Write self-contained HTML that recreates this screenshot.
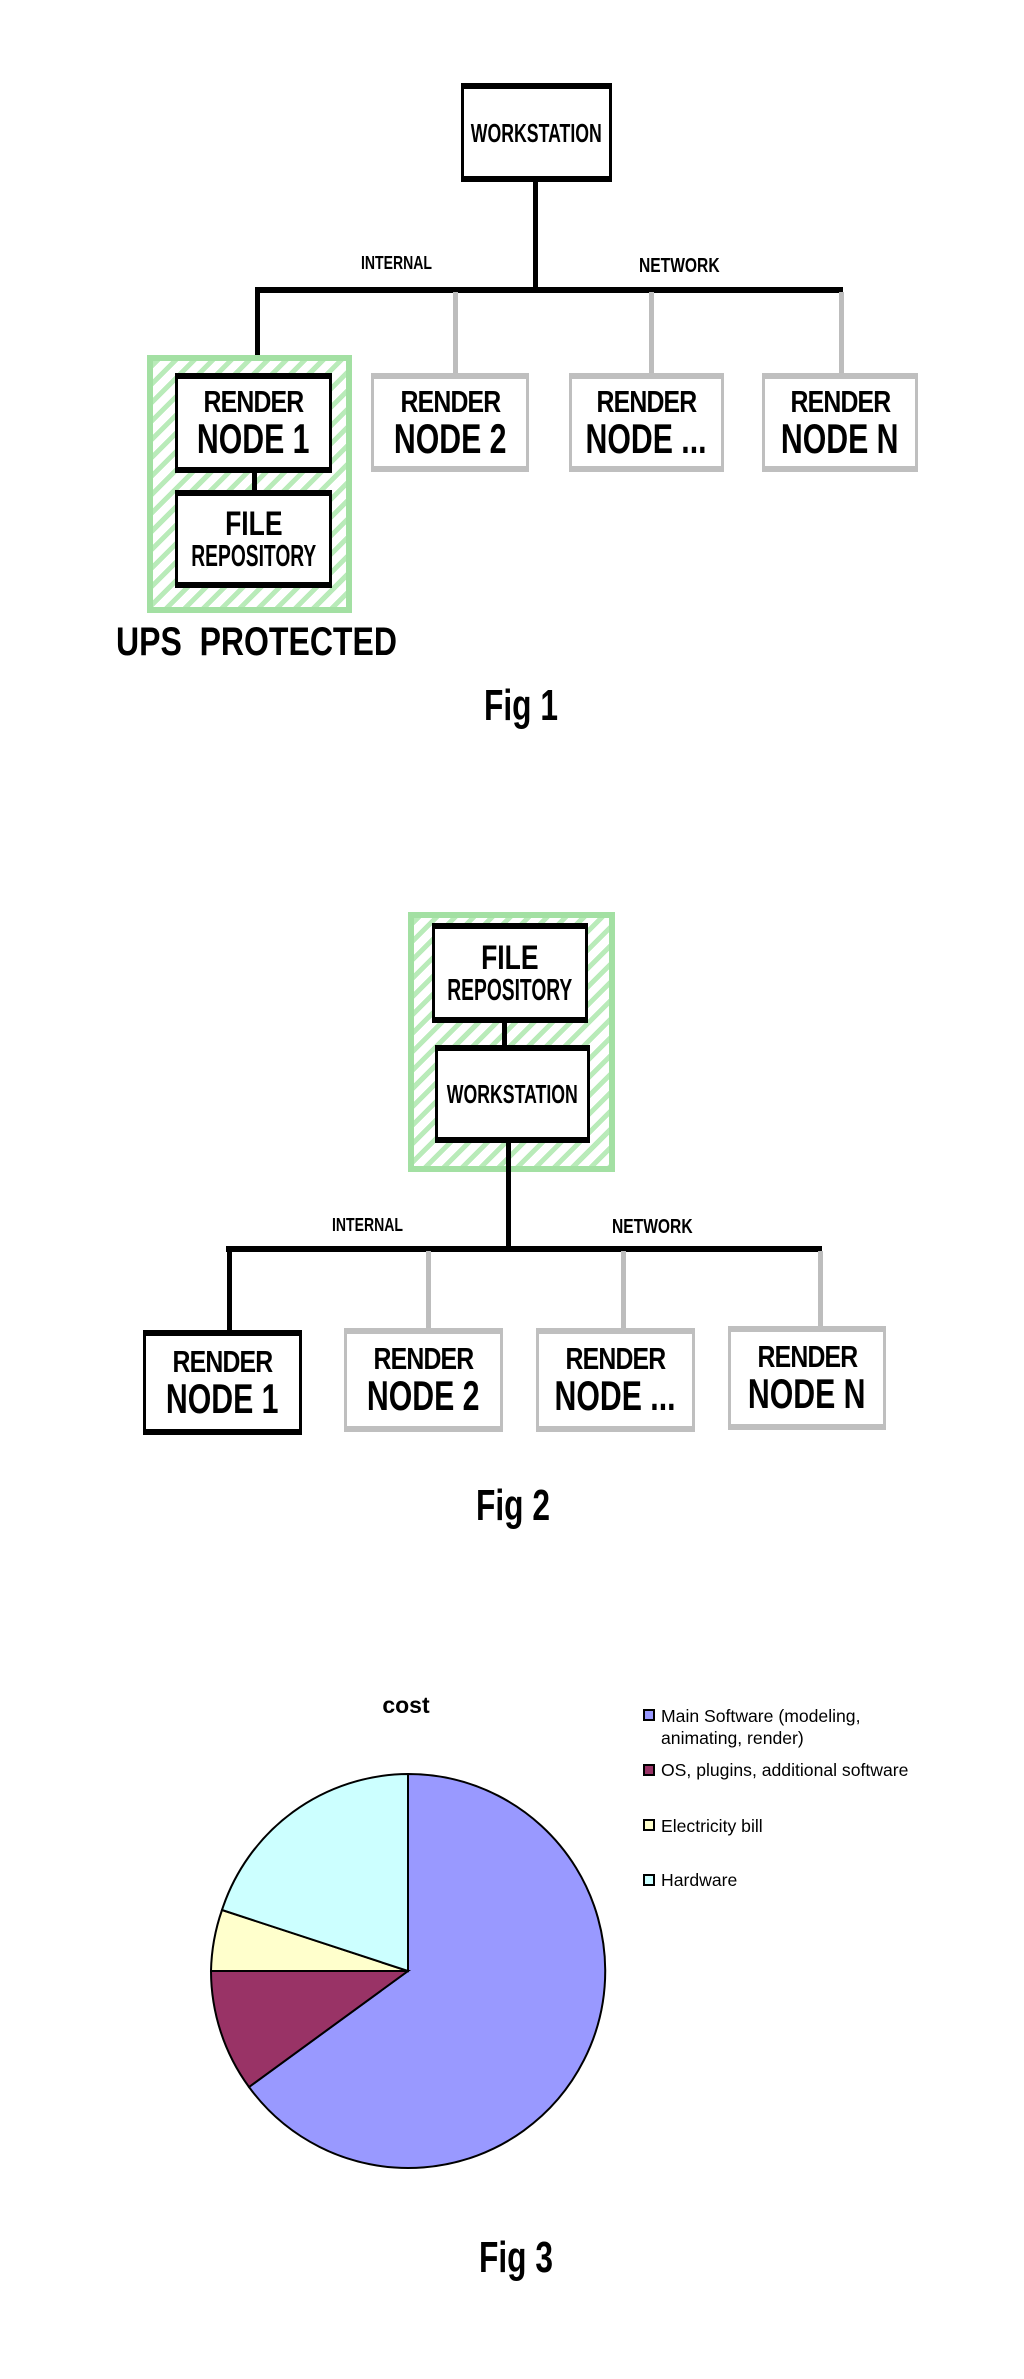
<!DOCTYPE html>
<html><head><meta charset="utf-8"><style>
body{margin:0;width:1024px;height:2379px;background:#fff;position:relative;overflow:hidden;font-family:"Liberation Sans",sans-serif}
.a{position:absolute}
.box{position:absolute;box-sizing:border-box;background:#fff;border-style:solid;border-color:#000;border-width:6px 3px 6px 3px;display:flex;flex-direction:column;align-items:center;justify-content:center;font-weight:bold;color:#000;overflow:visible}
.box span{white-space:nowrap;display:block}
.g{border-color:#bfbfbf}
.grn{position:absolute;box-sizing:border-box;border:6px solid #a3e0a3;background:repeating-linear-gradient(135deg,#b9ebb9 0 5px,#fff 5px 13px)}
.r1{font-size:31px;line-height:32px;transform:scaleX(.8);letter-spacing:-1px}
.r2{font-size:42px;line-height:42px;transform:scaleX(.72)}
.t{font-size:30px;line-height:30px;transform:scaleX(.78)}
.lbl{position:absolute;font-weight:bold;font-size:18px;transform:scaleX(.78);transform-origin:left top;white-space:nowrap}
.fig{position:absolute;font-weight:bold;font-size:44px;line-height:44px;transform:scaleX(.72);width:200px;text-align:center}
.hl{position:absolute;background:#000;height:6px}
.vl{position:absolute;background:#000;width:5px}
.gv{position:absolute;background:#bdbdbd;width:5px}
</style></head><body>

<!-- FIG 1 -->
<div class="box" style="left:461px;top:83px;width:151px;height:99px"><span class="t" style="font-size:26px;transform:scaleX(.68)">WORKSTATION</span></div>
<div class="vl" style="left:533px;top:180px;height:110px"></div>
<div class="hl" style="left:256px;top:287px;width:587px"></div>
<div class="lbl" style="left:361px;top:253px">INTERNAL</div>
<div class="lbl" style="left:639px;top:255px;font-size:20px">NETWORK</div>
<div class="vl" style="left:255px;top:287px;height:90px"></div>
<div class="gv" style="left:453px;top:292px;height:82px"></div>
<div class="gv" style="left:649px;top:292px;height:82px"></div>
<div class="gv" style="left:839px;top:292px;height:82px"></div>
<div class="grn" style="left:147px;top:355px;width:205px;height:258px"></div>
<div class="box" style="left:175px;top:373px;width:157px;height:100px"><span class="r1">RENDER</span><span class="r2">NODE 1</span></div>
<div class="vl" style="left:252px;top:472px;height:20px"></div>
<div class="box" style="left:175px;top:490px;width:157px;height:98px"><span class="t" style="font-size:34px;line-height:34px">FILE</span><span class="t" style="font-size:31px;transform:scaleX(.62)">REPOSITORY</span></div>
<div class="box g" style="left:371px;top:373px;width:158px;height:99px"><span class="r1">RENDER</span><span class="r2">NODE 2</span></div>
<div class="box g" style="left:569px;top:373px;width:155px;height:99px"><span class="r1">RENDER</span><span class="r2">NODE ...</span></div>
<div class="box g" style="left:762px;top:373px;width:156px;height:99px"><span class="r1">RENDER</span><span class="r2">NODE N</span></div>
<div class="a" style="left:116px;top:620px;font-weight:bold;font-size:40px;line-height:44px;transform:scaleX(.8);transform-origin:left top;white-space:nowrap">UPS&nbsp; PROTECTED</div>
<div class="fig" style="left:421px;top:684px">Fig 1</div>

<!-- FIG 2 -->
<div class="grn" style="left:408px;top:912px;width:207px;height:260px"></div>
<div class="box" style="left:432px;top:923px;width:156px;height:100px"><span class="t" style="font-size:34px;line-height:34px">FILE</span><span class="t" style="font-size:31px;transform:scaleX(.62)">REPOSITORY</span></div>
<div class="vl" style="left:502px;top:1021px;height:26px"></div>
<div class="box" style="left:435px;top:1045px;width:155px;height:98px"><span class="t" style="font-size:26px;transform:scaleX(.68)">WORKSTATION</span></div>
<div class="vl" style="left:506px;top:1141px;height:108px"></div>
<div class="hl" style="left:226px;top:1246px;width:596px"></div>
<div class="lbl" style="left:332px;top:1215px">INTERNAL</div>
<div class="lbl" style="left:612px;top:1216px;font-size:20px">NETWORK</div>
<div class="vl" style="left:227px;top:1246px;height:86px"></div>
<div class="gv" style="left:426px;top:1251px;height:80px"></div>
<div class="gv" style="left:621px;top:1251px;height:80px"></div>
<div class="gv" style="left:818px;top:1251px;height:80px"></div>
<div class="box" style="left:143px;top:1330px;width:159px;height:105px"><span class="r1">RENDER</span><span class="r2">NODE 1</span></div>
<div class="box g" style="left:344px;top:1328px;width:159px;height:104px"><span class="r1">RENDER</span><span class="r2">NODE 2</span></div>
<div class="box g" style="left:536px;top:1328px;width:159px;height:104px"><span class="r1">RENDER</span><span class="r2">NODE ...</span></div>
<div class="box g" style="left:728px;top:1326px;width:158px;height:104px"><span class="r1">RENDER</span><span class="r2">NODE N</span></div>
<div class="fig" style="left:413px;top:1484px">Fig 2</div>

<!-- FIG 3 -->
<div class="a" style="left:356px;top:1692px;width:100px;text-align:center;font-weight:bold;font-size:23px">cost</div>
<svg class="a" style="left:0;top:0" width="1024" height="2379">
<g stroke="#000" stroke-width="2">
<path d="M408,1971 L408,1774 A197,197 0 1 1 249,2087 Z" fill="#9999ff"/>
<path d="M408,1971 L249,2087 A197,197 0 0 1 211,1971 Z" fill="#993366"/>
<path d="M408,1971 L211,1971 A197,197 0 0 1 222,1910 Z" fill="#ffffcc"/>
<path d="M408,1971 L222,1910 A197,197 0 0 1 408,1774 Z" fill="#ccffff"/>
<rect x="644" y="1710" width="10" height="10" fill="#9999ff"/>
<rect x="644" y="1765" width="10" height="10" fill="#993366"/>
<rect x="644" y="1820" width="10" height="10" fill="#ffffcc"/>
<rect x="644" y="1875" width="10" height="10" fill="#ccffff"/>
</g>
<g font-family="Liberation Sans, sans-serif" font-size="17.6" fill="#000">
<text x="661" y="1722">Main Software (modeling,</text>
<text x="661" y="1744">animating, render)</text>
<text x="661" y="1776">OS, plugins, additional software</text>
<text x="661" y="1832">Electricity bill</text>
<text x="661" y="1886">Hardware</text>
</g>
</svg>
<div class="fig" style="left:416px;top:2236px">Fig 3</div>
</body></html>
